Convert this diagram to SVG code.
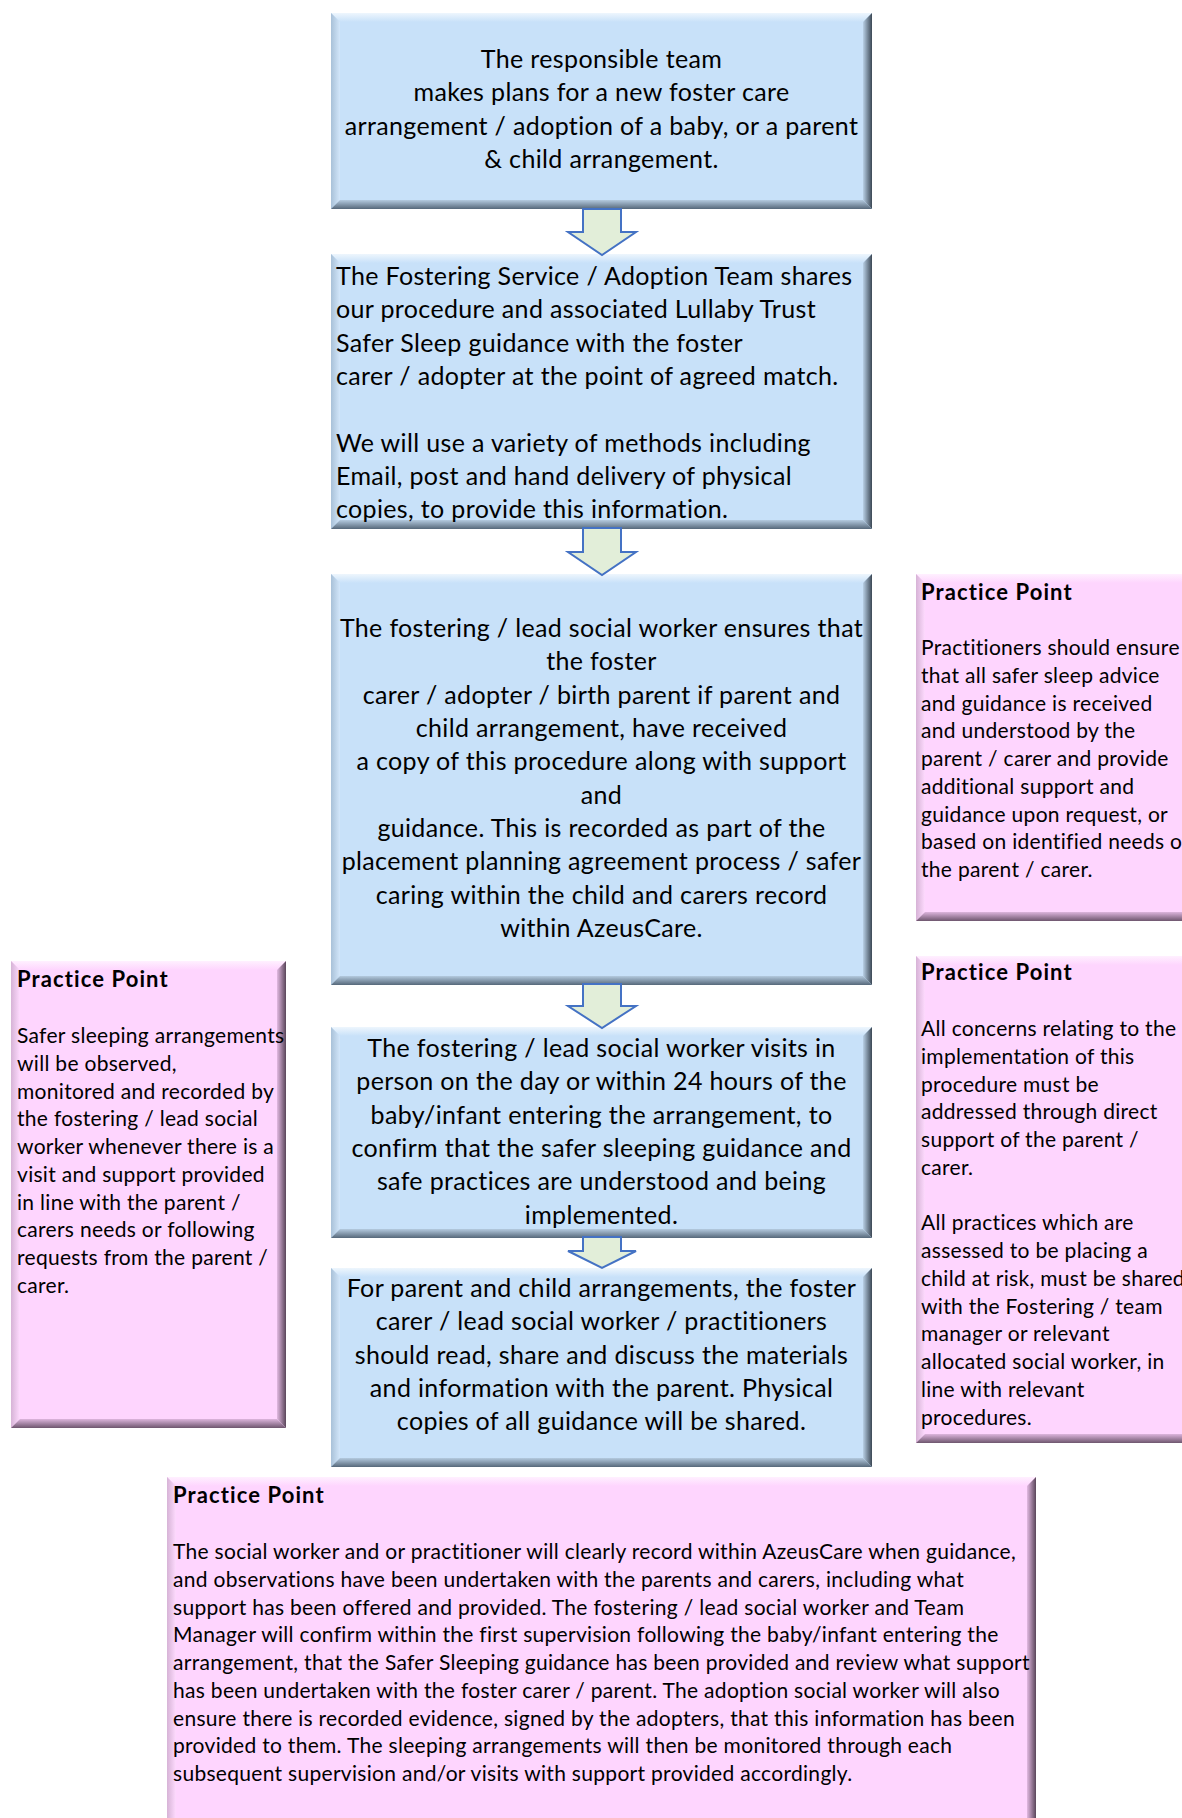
<svg xmlns="http://www.w3.org/2000/svg" width="1182" height="1818" viewBox="0 0 1182 1818">
<style>
.bt{font-family:Lato,"Open Sans","Noto Sans",sans-serif;font-size:25px;letter-spacing:0.35px;fill:#000}
.c{text-anchor:middle}
.pt{font-family:Lato,"Open Sans","Noto Sans",sans-serif;font-size:21px;letter-spacing:0.3px;fill:#000}
.ph{font-weight:bold;font-size:22px;letter-spacing:1.1px}
.bbase{fill:#C8E1F9}
.pbase{fill:#FED5FE}
.arrow{fill:#E2EED9;stroke:#4472C4;stroke-width:2;stroke-linejoin:miter}
</style>
<defs>
<linearGradient id="bT" x1="0" y1="0" x2="0" y2="1"><stop offset="0" stop-color="#EEF6FD"/><stop offset="1" stop-color="#C8E1F9"/></linearGradient>
<linearGradient id="bL" x1="0" y1="0" x2="1" y2="0"><stop offset="0" stop-color="#A9C1D8"/><stop offset="1" stop-color="#D2E6FA"/></linearGradient>
<linearGradient id="bR" x1="0" y1="0" x2="1" y2="0"><stop offset="0" stop-color="#B9D0E6"/><stop offset="1" stop-color="#3C4855"/></linearGradient>
<linearGradient id="bB" x1="0" y1="0" x2="0" y2="1"><stop offset="0" stop-color="#B4CADF"/><stop offset="1" stop-color="#56687A"/></linearGradient>
<linearGradient id="pT" x1="0" y1="0" x2="0" y2="1"><stop offset="0" stop-color="#FFF0FF"/><stop offset="1" stop-color="#FED5FE"/></linearGradient>
<linearGradient id="pL" x1="0" y1="0" x2="1" y2="0"><stop offset="0" stop-color="#D6B3D6"/><stop offset="1" stop-color="#FEDAFE"/></linearGradient>
<linearGradient id="pR" x1="0" y1="0" x2="1" y2="0"><stop offset="0" stop-color="#E2B9E2"/><stop offset="1" stop-color="#5A465A"/></linearGradient>
<linearGradient id="pB" x1="0" y1="0" x2="0" y2="1"><stop offset="0" stop-color="#DDB5DD"/><stop offset="1" stop-color="#6E566E"/></linearGradient>
</defs>
<rect width="1182" height="1818" fill="#fff"/>

<g id="box1">
<rect class="bbase" x="331" y="13" width="541" height="196"/>
<polygon fill="url(#bT)" points="331,13 872,13 863,22 340,22"/>
<polygon fill="url(#bL)" points="331,13 340,22 340,200 331,209"/>
<polygon fill="url(#bR)" points="872,13 872,209 863,200 863,22"/>
<polygon fill="url(#bB)" points="331,209 340,200 863,200 872,209"/>
<text class="bt c"><tspan x="601.5" y="68">The responsible team</tspan><tspan x="601.5" y="101.3">makes plans for a new foster care</tspan><tspan x="601.5" y="134.6">arrangement / adoption of a baby, or a parent</tspan><tspan x="601.5" y="168">&amp; child arrangement.</tspan></text>
</g>

<g id="box2">
<rect class="bbase" x="331" y="254" width="541" height="275"/>
<polygon fill="url(#bT)" points="331,254 872,254 863,263 340,263"/>
<polygon fill="url(#bL)" points="331,254 340,263 340,520 331,529"/>
<polygon fill="url(#bR)" points="872,254 872,529 863,520 863,263"/>
<polygon fill="url(#bB)" points="331,529 340,520 863,520 872,529"/>
<text class="bt"><tspan x="336" y="285">The Fostering Service / Adoption Team shares</tspan><tspan x="336" y="318.3">our procedure and associated Lullaby Trust</tspan><tspan x="336" y="351.6">Safer Sleep guidance with the foster</tspan><tspan x="336" y="385">carer / adopter at the point of agreed match.</tspan><tspan x="336" y="451.6">We will use a variety of methods including</tspan><tspan x="336" y="485">Email, post and hand delivery of physical</tspan><tspan x="336" y="518.3">copies, to provide this information.</tspan></text>
</g>

<g id="box3">
<rect class="bbase" x="331" y="574" width="541" height="411"/>
<polygon fill="url(#bT)" points="331,574 872,574 863,583 340,583"/>
<polygon fill="url(#bL)" points="331,574 340,583 340,976 331,985"/>
<polygon fill="url(#bR)" points="872,574 872,985 863,976 863,583"/>
<polygon fill="url(#bB)" points="331,985 340,976 863,976 872,985"/>
<text class="bt c"><tspan x="601.5" y="637">The fostering / lead social worker ensures that</tspan><tspan x="601.5" y="670.3">the foster</tspan><tspan x="601.5" y="703.7">carer / adopter / birth parent if parent and</tspan><tspan x="601.5" y="737">child arrangement, have received</tspan><tspan x="601.5" y="770.4">a copy of this procedure along with support</tspan><tspan x="601.5" y="803.7">and</tspan><tspan x="601.5" y="837">guidance. This is recorded as part of the</tspan><tspan x="601.5" y="870.4">placement planning agreement process / safer</tspan><tspan x="601.5" y="903.7">caring within the child and carers record</tspan><tspan x="601.5" y="937">within AzeusCare.</tspan></text>
</g>

<g id="box4">
<rect class="bbase" x="331" y="1027" width="541" height="211"/>
<polygon fill="url(#bT)" points="331,1027 872,1027 863,1036 340,1036"/>
<polygon fill="url(#bL)" points="331,1027 340,1036 340,1229 331,1238"/>
<polygon fill="url(#bR)" points="872,1027 872,1238 863,1229 863,1036"/>
<polygon fill="url(#bB)" points="331,1238 340,1229 863,1229 872,1238"/>
<text class="bt c"><tspan x="601.5" y="1057">The fostering / lead social worker visits in</tspan><tspan x="601.5" y="1090.3">person on the day or within 24 hours of the</tspan><tspan x="601.5" y="1123.7">baby/infant entering the arrangement, to</tspan><tspan x="601.5" y="1157">confirm that the safer sleeping guidance and</tspan><tspan x="601.5" y="1190.4">safe practices are understood and being</tspan><tspan x="601.5" y="1223.7">implemented.</tspan></text>
</g>

<g id="box5">
<rect class="bbase" x="331" y="1268" width="541" height="199"/>
<polygon fill="url(#bT)" points="331,1268 872,1268 863,1277 340,1277"/>
<polygon fill="url(#bL)" points="331,1268 340,1277 340,1458 331,1467"/>
<polygon fill="url(#bR)" points="872,1268 872,1467 863,1458 863,1277"/>
<polygon fill="url(#bB)" points="331,1467 340,1458 863,1458 872,1467"/>
<text class="bt c"><tspan x="601.5" y="1297">For parent and child arrangements, the foster</tspan><tspan x="601.5" y="1330.3">carer / lead social worker / practitioners</tspan><tspan x="601.5" y="1363.7">should read, share and discuss the materials</tspan><tspan x="601.5" y="1397">and information with the parent. Physical</tspan><tspan x="601.5" y="1430.4">copies of all guidance will be shared.</tspan></text>
</g>

<g id="pp_left">
<rect class="pbase" x="11" y="961" width="275" height="467"/>
<polygon fill="url(#pT)" points="11,961 286,961 277,970 20,970"/>
<polygon fill="url(#pL)" points="11,961 20,970 20,1419 11,1428"/>
<polygon fill="url(#pR)" points="286,961 286,1428 277,1419 277,970"/>
<polygon fill="url(#pB)" points="11,1428 20,1419 277,1419 286,1428"/>
<text class="pt ph" x="17" y="987">Practice Point</text>
<text class="pt"><tspan x="17" y="1043">Safer sleeping arrangements</tspan><tspan x="17" y="1070.8">will be observed,</tspan><tspan x="17" y="1098.5">monitored and recorded by</tspan><tspan x="17" y="1126.3">the fostering / lead social</tspan><tspan x="17" y="1154">worker whenever there is a</tspan><tspan x="17" y="1181.8">visit and support provided</tspan><tspan x="17" y="1209.5">in line with the parent /</tspan><tspan x="17" y="1237.3">carers needs or following</tspan><tspan x="17" y="1265">requests from the parent /</tspan><tspan x="17" y="1292.8">carer.</tspan></text>
</g>

<g id="pp_right1">
<rect class="pbase" x="916" y="574" width="280" height="347"/>
<polygon fill="url(#pT)" points="916,574 1196,574 1187,583 925,583"/>
<polygon fill="url(#pL)" points="916,574 925,583 925,912 916,921"/>
<polygon fill="url(#pB)" points="916,921 925,912 1187,912 1196,921"/>
<text class="pt ph" x="921" y="600">Practice Point</text>
<text class="pt"><tspan x="921" y="655">Practitioners should ensure</tspan><tspan x="921" y="682.8">that all safer sleep advice</tspan><tspan x="921" y="710.5">and guidance is received</tspan><tspan x="921" y="738.3">and understood by the</tspan><tspan x="921" y="766">parent / carer and provide</tspan><tspan x="921" y="793.8">additional support and</tspan><tspan x="921" y="821.5">guidance upon request, or</tspan><tspan x="921" y="849.3">based on identified needs of</tspan><tspan x="921" y="877">the parent / carer.</tspan></text>
</g>

<g id="pp_right2">
<rect class="pbase" x="916" y="956" width="280" height="487"/>
<polygon fill="url(#pT)" points="916,956 1196,956 1187,965 925,965"/>
<polygon fill="url(#pL)" points="916,956 925,965 925,1434 916,1443"/>
<polygon fill="url(#pB)" points="916,1443 925,1434 1187,1434 1196,1443"/>
<text class="pt ph" x="921" y="980">Practice Point</text>
<text class="pt"><tspan x="921" y="1036">All concerns relating to the</tspan><tspan x="921" y="1063.8">implementation of this</tspan><tspan x="921" y="1091.5">procedure must be</tspan><tspan x="921" y="1119.3">addressed through direct</tspan><tspan x="921" y="1147">support of the parent /</tspan><tspan x="921" y="1174.8">carer.</tspan><tspan x="921" y="1230.3">All practices which are</tspan><tspan x="921" y="1258">assessed to be placing a</tspan><tspan x="921" y="1285.8">child at risk, must be shared</tspan><tspan x="921" y="1313.5">with the Fostering / team</tspan><tspan x="921" y="1341.3">manager or relevant</tspan><tspan x="921" y="1369">allocated social worker, in</tspan><tspan x="921" y="1396.8">line with relevant</tspan><tspan x="921" y="1424.5">procedures.</tspan></text>
</g>

<g id="pp_bottom">
<rect class="pbase" x="167" y="1477" width="869" height="350"/>
<polygon fill="url(#pT)" points="167,1477 1036,1477 1027,1486 176,1486"/>
<polygon fill="url(#pL)" points="167,1477 176,1486 176,1830 167,1830"/>
<polygon fill="url(#pR)" points="1036,1477 1036,1830 1027,1830 1027,1486"/>
<text class="pt ph" x="173" y="1503">Practice Point</text>
<text class="pt"><tspan x="173" y="1559">The social worker and or practitioner will clearly record within AzeusCare when guidance,</tspan><tspan x="173" y="1586.8">and observations have been undertaken with the parents and carers, including what</tspan><tspan x="173" y="1614.5">support has been offered and provided. The fostering / lead social worker and Team</tspan><tspan x="173" y="1642.3">Manager will confirm within the first supervision following the baby/infant entering the</tspan><tspan x="173" y="1670">arrangement, that the Safer Sleeping guidance has been provided and review what support</tspan><tspan x="173" y="1697.8">has been undertaken with the foster carer / parent. The adoption social worker will also</tspan><tspan x="173" y="1725.5">ensure there is recorded evidence, signed by the adopters, that this information has been</tspan><tspan x="173" y="1753.3">provided to them. The sleeping arrangements will then be monitored through each</tspan><tspan x="173" y="1781">subsequent supervision and/or visits with support provided accordingly.</tspan></text>
</g>

<g id="connectors">
<path class="arrow" d="M583,209 L621,209 L621,232 L636,232 L602,255 L568,232 L583,232 Z"/>
<path class="arrow" d="M583,528 L621,528 L621,552 L636,552 L602,575 L568,552 L583,552 Z"/>
<path class="arrow" d="M583,984 L621,984 L621,1006 L636,1006 L602,1028 L568,1006 L583,1006 Z"/>
<path class="arrow" d="M583,1237 L621,1237 L621,1251 L636,1251 L602,1268 L568,1251 L583,1251 Z"/>
</g>
</svg>
